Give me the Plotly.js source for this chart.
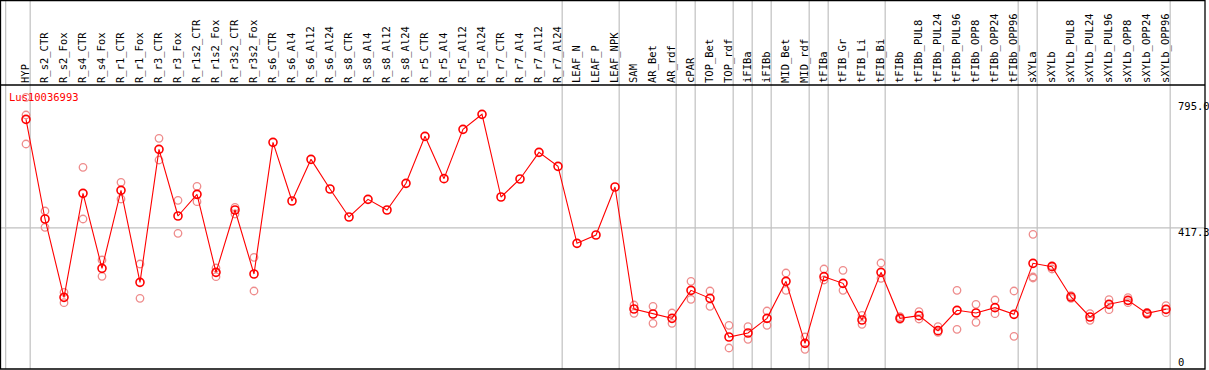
<!DOCTYPE html>
<html>
<head>
<meta charset="utf-8">
<script src="https://cdn.plot.ly/plotly-3.0.1.min.js"></script>
<style>
html,body{margin:0;padding:0;background:#fff;}
#chart{width:1209px;height:370px;}
</style>
</head>
<body>
<div id="chart"></div>
<script>
// ---- data ----
const geneName = "Lus10036993";
const categories = ["HYP","R_s2_CTR","R_s2_Fox","R_s4_CTR","R_s4_Fox","R_r1_CTR","R_r1_Fox","R_r3_CTR","R_r3_Fox","R_r1s2_CTR","R_r1s2_Fox","R_r3s2_CTR","R_r3s2_Fox","R_s6_CTR","R_s6_Al4","R_s6_Al12","R_s6_Al24","R_s8_CTR","R_s8_Al4","R_s8_Al12","R_s8_Al24","R_r5_CTR","R_r5_Al4","R_r5_Al12","R_r5_Al24","R_r7_CTR","R_r7_Al4","R_r7_Al12","R_r7_Al24","LEAF_N","LEAF_P","LEAF_NPK","SAM","AR_Bet","AR_rdf","cPAR","TOP_Bet","TOP_rdf","iFIBa","iFIBb","MID_Bet","MID_rdf","tFIBa","tFIB_Gr","tFIB_Li","tFIB_Bi","tFIBb","tFIBb_PUL8","tFIBb_PUL24","tFIBb_PUL96","tFIBb_OPP8","tFIBb_OPP24","tFIBb_OPP96","sXYLa","sXYLb","sXYLb_PUL8","sXYLb_PUL24","sXYLb_PUL96","sXYLb_OPP8","sXYLb_OPP24","sXYLb_OPP96"];
const meanValues = [743,444,209,521,296,530,254,653,453,518,284,471,279,674,498,623,534,450,503,471,551,692,565,713,758,510,564,644,602,371,396,540,174,159,146,230,206,90,102,146,257,71,271,251,141,284,146,154,109,170,162,178,158,311,301,210,150,188,200,161,173];
const rep1 = [809,468,224,599,321,554,309,686,500,542,297,479,329,null,null,null,null,null,null,null,null,null,null,null,null,null,null,null,null,null,null,null,186,182,162,257,228,125,121,168,282,90,294,290,155,312,151,166,121,230,188,201,228,398,304,214,160,202,208,164,184];
const rep2 = [669,419,193,444,272,504,206,621,401,496,271,459,228,null,null,null,null,null,null,null,null,null,null,null,null,null,null,null,null,null,null,null,161,131,131,203,182,57,83,125,230,53,261,230,128,266,143,144,104,113,134,160,92,267,294,206,140,172,193,158,163];
const rep3 = [756,null,null,null,null,null,null,null,null,null,null,null,null,null,null,null,null,null,null,null,null,null,null,null,null,null,null,null,null,null,null,null,null,null,null,null,null,null,null,null,null,null,null,null,null,null,null,null,null,null,null,null,null,270,null,null,null,null,null,null,null];
const yTickLabels = ["795.0","417.3","0"];
const yTickValues = [795, 417.3, 0];
// group separators: drawn right after these categories
const groupEnds = ["HYP","R_r7_Al24","LEAF_NPK","AR_rdf","cPAR","TOP_rdf","iFIBa","iFIBb","MID_rdf","tFIBa","tFIB_Bi","tFIBb_OPP96","sXYLa","sXYLb_OPP96"];

// ---- layout helpers ----
const W = 1209, H = 370;
const mL = 1, mR = 4, mT = 85, mB = 1;
const pw = W - mL - mR, ph = H - mT - mB;
const x0px = 26, stepPx = 19;
const xRange = [(mL - x0px) / stepPx, (W - mR - x0px) / stepPx];
const yRange = [-6, 846];
const pxToPaperX = px => (px - mL) / pw;
const pxToPaperY = py => 1 - (py - mT) / ph;
const idxToPaperX = i => pxToPaperX(x0px + stepPx * i);

const mono = "DejaVu Sans Mono, Liberation Mono, monospace";

const repTrace = (vals) => ({
  type: "scatter", mode: "markers", x: categories, y: vals,
  marker: {symbol: "circle-open", size: 7.5, color: "rgb(238,140,140)", line: {width: 1.3, color: "rgb(238,140,140)"}},
  hoverinfo: "skip", showlegend: false, cliponaxis: false
});

const traces = [
  repTrace(rep1), repTrace(rep2), repTrace(rep3),
  {
    type: "scatter", mode: "lines+markers", x: categories, y: meanValues,
    line: {color: "#ff0000", width: 1.1},
    marker: {symbol: "circle-open", size: 8, color: "#ff0000", line: {width: 1.6, color: "#ff0000"}},
    showlegend: false, cliponaxis: false
  }
];

const shapes = [];
// separators (extend through header)
const sepIdx = [-1.07].concat(groupEnds.map(c => categories.indexOf(c) + 0.22));
sepIdx.forEach(i => {
  const xp = idxToPaperX(i);
  shapes.push({type: "line", xref: "paper", yref: "paper", x0: xp, x1: xp, y0: 0, y1: pxToPaperY(0),
    line: {color: "#c0c0c0", width: 1.2}, layer: "below"});
});
// horizontal grid line at middle tick
shapes.push({type: "line", xref: "paper", yref: "y", x0: 0, x1: 1, y0: yTickValues[1], y1: yTickValues[1],
  line: {color: "#c0c0c0", width: 1.2}, layer: "below"});
// outer frame including header
shapes.push({type: "rect", xref: "paper", yref: "paper", x0: pxToPaperX(0.5), x1: 1, y0: 0, y1: pxToPaperY(0.5),
  line: {color: "#000", width: 1.3}, fillcolor: "rgba(0,0,0,0)", layer: "above"});
shapes.push({type: "line", xref: "paper", yref: "paper", x0: pxToPaperX(0.5), x1: 1, y0: 1, y1: 1,
  line: {color: "#000", width: 1.3}, layer: "above"});

const annotations = [
  {xref: "paper", yref: "paper", x: pxToPaperX(8), y: pxToPaperY(96.5), xanchor: "left", yanchor: "middle",
   text: geneName, showarrow: false, font: {family: mono, size: 10.5, color: "#ff0000"}, borderpad: 0}
];
const labelCenters = [106.5, 232, 362];
yTickLabels.forEach((t, k) => {
  annotations.push({xref: "paper", yref: "paper", x: pxToPaperX(1177), y: pxToPaperY(labelCenters[k]),
    xanchor: "left", yanchor: "middle", text: t, showarrow: false, borderpad: 0,
    font: {family: mono, size: 10.5, color: "#000"}});
});

const layout = {
  width: W, height: H,
  margin: {l: mL, r: mR, t: mT, b: mB, pad: 0},
  paper_bgcolor: "#fff", plot_bgcolor: "#fff",
  showlegend: false,
  xaxis: {
    type: "category", categoryorder: "array", categoryarray: categories,
    range: xRange, side: "top", tickangle: -90, ticks: "", showgrid: false, zeroline: false,
    showline: false, tickfont: {family: mono, size: 10.5, color: "#000"}, automargin: false,
    ticklabelstandoff: 1
  },
  yaxis: {
    range: yRange, showgrid: false, zeroline: false, showticklabels: false, ticks: "",
    showline: false, automargin: false
  },
  shapes: shapes,
  annotations: annotations
};

Plotly.newPlot("chart", traces, layout, {staticPlot: true, displayModeBar: false});
</script>
</body>
</html>
